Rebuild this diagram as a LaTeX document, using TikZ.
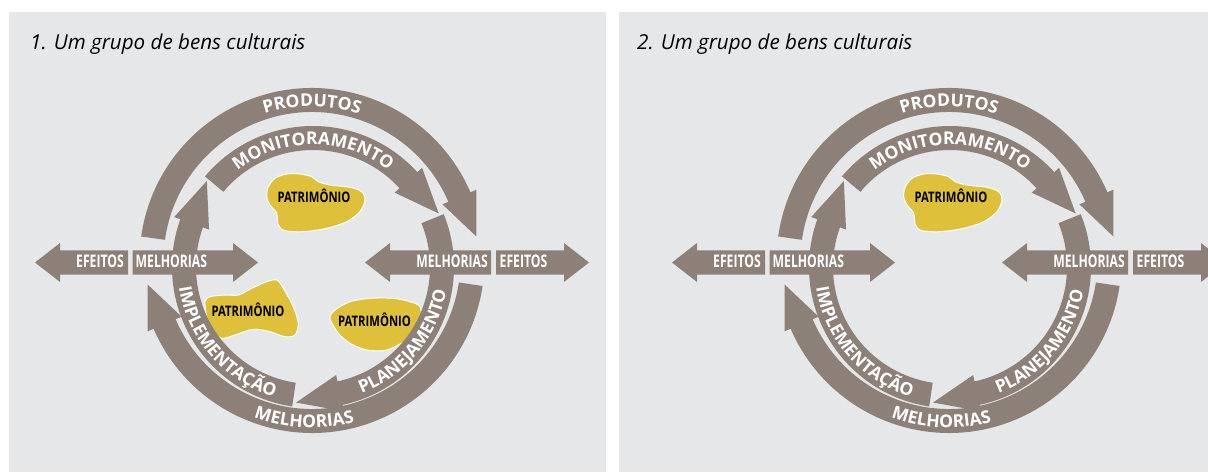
\documentclass[tikz,border=0pt]{standalone}
\usepackage{fontspec}
\setmainfont{Open Sans}
\newfontfamily\estreita[FakeStretch=0.78]{Open Sans}
\newfontfamily\rotfonte[FakeStretch=0.7]{Open Sans}
\usetikzlibrary{calc,decorations.text}

\definecolor{fundo}{RGB}{230,231,232}
\definecolor{marrom}{RGB}{141,128,120}
\definecolor{ouro}{RGB}{223,192,59}

\tikzset{
	banda/.style={fill=marrom},
	bem/.style={fill=ouro,draw=white,line width=1},
	rotulo/.style={text=white,inner sep=0,font=\rotfonte\bfseries\fontsize{17.4}{19}\selectfont},
	bemtxt/.style={text=black,inner sep=0,anchor=base,font=\estreita\bfseries\fontsize{14.5}{16}\selectfont},
	titulo/.style={inner sep=0,anchor=base west,font=\itshape\fontsize{20.6}{24}\selectfont}
}

\newcommand{\curva}{\bfseries\fontsize{17.5}{20}\selectfont}

% faixa curva com ponta: raio externo, raio interno, angulo inicial, angulo da base, comprimento da ponta
\newcommand{\faixa}[5]{
	\pgfmathsetmacro\rmeio{(#1+#2)/2}
	\pgfmathsetmacro\rasa{\rmeio+18.5}
	\pgfmathsetmacro\rasb{\rmeio-18.5}
	\pgfmathsetmacro\rdir{#4-90}
	\fill[banda] (#3:#1) arc[start angle=#3,end angle=#4,radius=#1] to (#4:\rasa) to ($(#4:\rmeio)+(\rdir:#5)$) to (#4:\rasb) to (#4:#2) arc[start angle=#4,end angle=#3,radius=#2] -- cycle;
}

\newcommand{\textocurvo}[4]{
	\path[decorate,decoration={text along path,text={|\curva|#4},text align=center,text color=white}] (#2:#1) arc[start angle=#2,end angle=#3,radius=#1];
}

\newcommand{\ciclo}{
	\begin{scope}[shift={(312,211.5)}]
		\faixa{172.5}{148.5}{172}{23.3}{43}
		\faixa{172.5}{148.5}{-8.5}{-156.7}{43}
	\end{scope}
	\begin{scope}[shift={(313,205)}]
		\faixa{141}{117}{140}{42.3}{45}
		\faixa{141}{117}{22}{-77.9}{45}
		\faixa{141}{117}{-98.5}{-199.8}{45}
	\end{scope}
	
	\fill[banda] (35,209.5) to (60,229) to (60,221.5) to (128,221.5) to (128,197.5) to (60,197.5) to (60,190) -- cycle;
	\fill[banda] (132.7,221.5) to (233,221.5) to (233,229) to (258,209.5) to (233,190) to (233,197.5) to (132.7,197.5) -- cycle;
	\fill[banda] (365,209.5) to (390,229) to (390,221.5) to (491,221.5) to (491,197.5) to (390,197.5) to (390,190) -- cycle;
	\fill[banda] (496,221.5) to (564,221.5) to (564,229) to (589,209.5) to (564,190) to (564,197.5) to (496,197.5) -- cycle;
	
	\node[rotulo,anchor=base east] (efeitosE) at (124,204.5) {EFEITOS};
	\node[rotulo,anchor=base west] (melhoriasE) at (135.5,204.5) {MELHORIAS};
	\node[rotulo,anchor=base east] (melhoriasD) at (488,204.5) {MELHORIAS};
	\node[rotulo,anchor=base west] (efeitosD) at (499.5,204.5) {EFEITOS};
	
	\begin{scope}[shift={(312,211.5)}]
		\textocurvo{154}{150}{30}{PRODUTOS}
		\textocurvo{167}{-152.8}{-32.8}{MELHORIAS}
	\end{scope}
	\begin{scope}[shift={(313,205)}]
		\textocurvo{122.5}{150}{30}{MONITORAMENTO}
		\textocurvo{135.5}{-99.5}{20.5}{PLANEJAMENTO}
		\textocurvo{135.5}{161}{281}{IMPLEMENTAÇÃO}
	\end{scope}
}

\newcommand{\bemtopo}{
	\path[bem] plot[smooth cycle] coordinates {(268.3,285.3) (275,293.7) (286.7,298) (300,298) (311.7,295.3) (318.3,290.3) (330,287) (350,284.7) (361.7,280.3) (365,272) (360,260.3) (346.7,250.3) (326.7,243.7) (303.3,240.3) (285,241.3) (278.3,247) (276.7,258.7) (270,267) (266.7,275.3)};
	\node[bemtxt] (patrimonio1) at (314,269) {PATRIMÔNIO};
}

\begin{document}
\begin{tikzpicture}[x=1pt,y=1pt]
	\useasboundingbox (0,0) rectangle (1208,472);
	\clip (0,0) rectangle (1208,472);
	\fill[white] (0,0) rectangle (1208,472);
	\fill[fundo] (9,0) rectangle (606,460);
	\fill[fundo] (619,0) rectangle (1208,460);
	
	\node[titulo] (titulo1) at (30,422) {1. Um grupo de bens culturais};
	\node[titulo] (titulo2) at (637,422) {2. Um grupo de bens culturais};
	
	\begin{scope}[name prefix=p1-]
		\bemtopo
		\path[bem] plot[smooth cycle] coordinates {(205,170.3) (210,175.3) (225,177) (238.3,177) (251.7,183.7) (266.7,190.3) (276.7,192) (283.3,183.7) (293.3,165.3) (298.3,148.7) (295,137) (285,135.3) (270,140.3) (253.3,142.7) (235,137) (221.7,133.7) (211.7,142) (206.7,155.3)};
		\node[bemtxt] (patrimonio2) at (248,155.3) {PATRIMÔNIO};
		\path[bem] plot[smooth cycle] coordinates {(330,153.7) (335,162) (350,170.3) (370,173.7) (393.3,173.7) (410,170.3) (420,165.3) (422,150) (420,145.3) (406.7,132) (386.7,122) (366.7,122) (350,128.7) (338.3,138.7)};
		\node[bemtxt] (patrimonio3) at (374.5,145.3) {PATRIMÔNIO};
		\ciclo
	\end{scope}
	
	\begin{scope}[shift={(637,0)},name prefix=p2-]
		\bemtopo
		\ciclo
	\end{scope}
\end{tikzpicture}
\end{document}
